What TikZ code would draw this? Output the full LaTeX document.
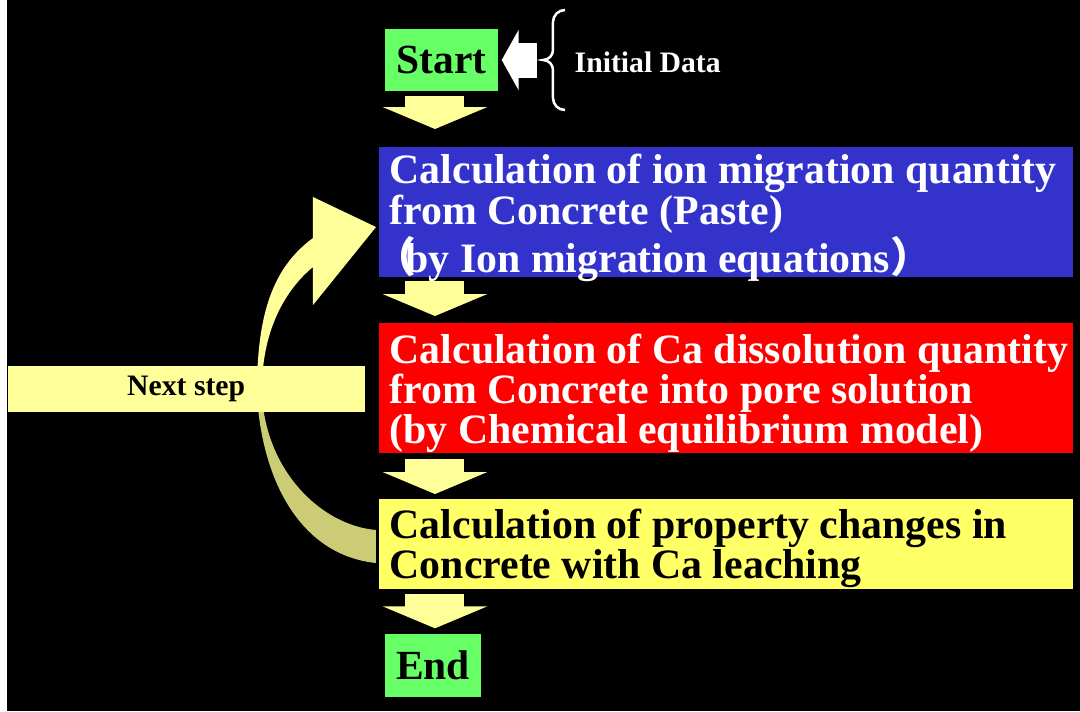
\documentclass[tikz,border=0pt]{standalone}
\usepackage{fontspec}
\setmainfont{Liberation Serif}
\newfontfamily\cjk{Noto Sans CJK JP}
\usepackage{tikz}
\usetikzlibrary{arrows.meta}
\definecolor{calcblue}{HTML}{3333CC}
\definecolor{calcred}{HTML}{FF0000}
\definecolor{calcyellow}{HTML}{FFFF66}
\definecolor{paleyellow}{HTML}{FFFF99}
\definecolor{darkkhaki}{HTML}{CCCC77}
\definecolor{termgreen}{HTML}{66FF66}
\newcommand{\pxu}{0.1mm}
\tikzset{
  calcbox/.style={anchor=north west, minimum width=694*\pxu, inner sep=0pt},
  calctext/.style={anchor=west, inner sep=0pt, align=left,
    font=\fontsize{11.9}{11.5}\selectfont\bfseries},
  termbox/.style={fill=termgreen, inner sep=0pt, font=\fontsize{11.8}{14}\selectfont\bfseries},
  downarrow/.style={draw=paleyellow, line width=5.9mm, line cap=butt,
    -{Triangle[width=10.4mm,length=2.2mm]}},
}
\begin{document}
\begin{tikzpicture}[x=0.1mm, y=-0.1mm]
	\useasboundingbox (0,0) rectangle (1080,711);
	\fill[white] (0,0) rectangle (1080,711);
	\fill[black] (7,0) rectangle (1080,711);

	% terminal boxes
	\node[termbox, minimum width=113*\pxu, minimum height=62*\pxu] (start) at (441.5,60) {Start};
	\node[termbox, minimum width=96*\pxu, minimum height=63*\pxu] (end) at (433,665.5) {End};

	% calculation boxes
	\node[calcbox, fill=calcblue, minimum height=130*\pxu] (ion) at (378,146) {};
	\node[calcbox, fill=calcred, minimum height=130*\pxu] (ca) at (378,322) {};
	\node[calcbox, fill=calcyellow, minimum height=90*\pxu] (prop) at (378,498) {};
	\node[calctext, text=white] (ion text) at ([xshift=1.1mm, yshift=-0.65mm]ion.west)
		{Calculation of ion migration quantity\\from Concrete (Paste)\\\kern-0.37em{\cjk （}\kern-0.25em by Ion migration equations{\cjk ）}};
	\node[calctext, text=white] (ca text) at ([xshift=1.1mm, yshift=-0.55mm]ca.west)
		{Calculation of Ca dissolution quantity\\from Concrete into pore solution\\(by Chemical equilibrium model)};
	\node[calctext, text=black] (prop text) at ([xshift=1.1mm, yshift=-0.45mm]prop.west)
		{Calculation of property changes in\\Concrete with Ca leaching};

	% initial data
	\coordinate (data) at (537,60);
	\draw[white, line width=3.5mm, -{Triangle[width=6mm,length=1.7mm]}, shorten >=0.3mm] (data) -- (start.east);
	\draw[white, line width=0.25mm] (565,10) to[out=180,in=90] (553,22) to (553,50) to[out=270,in=0] (543,60)
		to[out=0,in=90] (553,70) to (553,98) to[out=270,in=180] (565,110);
	\node[text=white, font=\fontsize{8.45}{10}\selectfont\bfseries, anchor=west, inner sep=0pt] (init) at (574,62) {Initial Data};

	% block arrows
	\draw[downarrow, shorten <=0.4mm, shorten >=1.7mm] ([xshift=-0.65mm]start.south) -- ([xshift=-0.65mm]start.south |- ion.north);
	\draw[downarrow, shorten <=0.4mm, shorten >=0.6mm] ([xshift=5.7mm]ion.south west) -- ([xshift=5.7mm]ion.south west |- ca.north);
	\draw[downarrow, shorten <=0.6mm, shorten >=0.4mm] ([xshift=5.7mm]ca.south west) -- ([xshift=5.7mm]ca.south west |- prop.north);
	\draw[downarrow, shorten <=0.5mm, shorten >=0.5mm] ([xshift=5.7mm]prop.south west) -- ([xshift=5.7mm]prop.south west |- end.north);

	% curved return arrow
	\fill[darkkhaki] (257,395) .. controls (262,480) and (300,555) .. (376,563) -- (376,530)
		.. controls (320,525) and (266,470) .. (262,395) -- cycle;
	\fill[paleyellow] (257,385) .. controls (258,315) and (272,268) .. (313,238) -- (313,197) -- (376,227)
		-- (313,305) -- (313,267) .. controls (285,290) and (263,330) .. (262,385) -- cycle;
	\node[fill=paleyellow, anchor=north west, minimum width=357*\pxu, minimum height=46*\pxu, inner sep=0pt,
		font=\fontsize{8.45}{10}\selectfont\bfseries] (next) at (7,365) {Next step};
\end{tikzpicture}
\end{document}
